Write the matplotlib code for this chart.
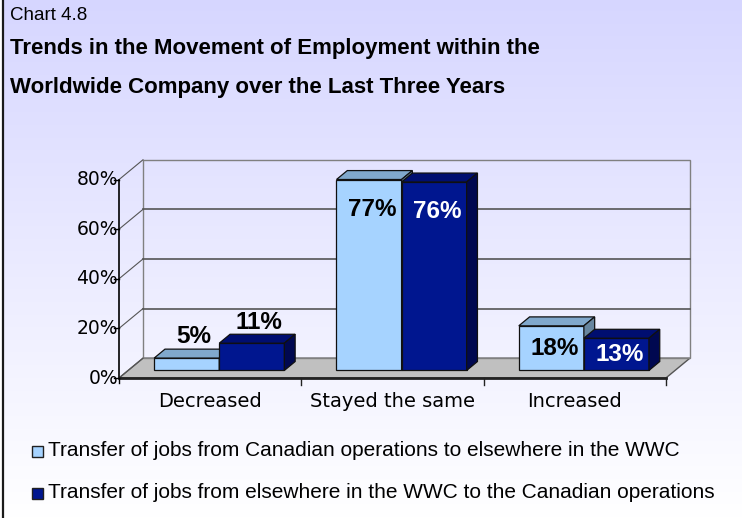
import matplotlib

matplotlib.use("Agg")
import matplotlib.pyplot as plt
import numpy as np
from matplotlib.patches import Polygon

CHART_LABEL = "Chart 4.8"
TITLE = "Trends in the Movement of Employment within the\nWorldwide Company over the Last Three Years"
CATEGORIES = ["Decreased", "Stayed the same", "Increased"]
SERIES_NAMES = [
    "Transfer of jobs from Canadian operations to elsewhere in the WWC",
    "Transfer of jobs from elsewhere in the WWC to the Canadian operations",
]
FROM_CANADA = [5, 77, 18]
TO_CANADA = [11, 76, 13]
Y_TICKS = [0, 20, 40, 60, 80]

# pixel layout of the figure (742 x 518 at dpi 100)
W_PX, H_PX = 742, 518
X0_PX, Y0_PX = 119, 378          # front-left corner of the floor
PX_PER_CAT, PX_PER_PCT = 182.3, 2.48
DX, DY = 24 / PX_PER_CAT, 8.0     # depth offset of the back wall (data units)
ZF, ZB = 0.38, 0.83               # bar depth span (0 = front, 1 = back)
BAR_W = 0.357

FRONT = ["#A6D3FF", "#00168F"]
TOP = ["#80A8CC", "#000E70"]
SIDE = ["#67869F", "#000850"]
TEXT_COL = ["black", "white"]

SANS = "Liberation Sans"
AXIS_FONT = "DejaVu Sans"


def proj(x, y, z):
    return (x + z * DX, y + z * DY)


def fx(px):
    return px / W_PX


def fy(py):
    return 1 - py / H_PX


def draw_bar(ax, x0, x1, h, s):
    front = [proj(x0, 0, ZF), proj(x1, 0, ZF), proj(x1, h, ZF), proj(x0, h, ZF)]
    top = [proj(x0, h, ZF), proj(x1, h, ZF), proj(x1, h, ZB), proj(x0, h, ZB)]
    side = [proj(x1, 0, ZF), proj(x1, 0, ZB), proj(x1, h, ZB), proj(x1, h, ZF)]
    for pts, col in ((front, FRONT[s]), (top, TOP[s]), (side, SIDE[s])):
        ax.add_patch(Polygon(pts, closed=True, facecolor=col, edgecolor="#101010",
                             linewidth=0.9, zorder=3))


fig = plt.figure(figsize=(W_PX / 100, H_PX / 100), dpi=100)

# background gradient
bg = fig.add_axes([0, 0, 1, 1], zorder=-2)
grad = np.linspace(0, 1, 256)[:, None]
top_c = np.array([0.84, 0.84, 1.0])
bot_c = np.array([1.0, 1.0, 1.0])
img = top_c[None, None, :] * (1 - grad[:, :, None]) + bot_c[None, None, :] * grad[:, :, None]
bg.imshow(img, aspect="auto", extent=[0, 1, 0, 1], origin="upper")
bg.axvspan(0, fx(2), color="white")
bg.axvline(fx(2.5), color="#1a1a1a", linewidth=1.6)
bg.set_xlim(0, 1)
bg.set_ylim(0, 1)
bg.axis("off")

# main axes mapped onto pixels: x in category units, y in percent
ax = fig.add_axes([0, 0, 1, 1])
ax.set_xlim(-0.5 - X0_PX / PX_PER_CAT, -0.5 + (W_PX - X0_PX) / PX_PER_CAT)
ax.set_ylim((Y0_PX - H_PX) / PX_PER_PCT, Y0_PX / PX_PER_PCT)
ax.axis("off")
ax.patch.set_alpha(0)

n = len(CATEGORIES)
xl, xr = -0.5, n - 0.5
ymax = Y_TICKS[-1]

# floor
floor = [proj(xl, 0, 0), proj(xr, 0, 0), proj(xr, 0, 1), proj(xl, 0, 1)]
ax.add_patch(Polygon(floor, closed=True, facecolor="#C0C0C0", edgecolor="#555555",
                     linewidth=1.0, zorder=1))

# back wall and gridlines
wall = [proj(xl, 0, 1), proj(xr, 0, 1), proj(xr, ymax, 1), proj(xl, ymax, 1)]
ax.add_patch(Polygon(wall, closed=True, facecolor="none", edgecolor="#808080",
                     linewidth=1.0, zorder=1))
for v in Y_TICKS[1:-1]:
    (a, b), (c, d) = proj(xl, v, 1), proj(xr, v, 1)
    ax.plot([a, c], [b, d], color="#555555", linewidth=1.2, zorder=1)
for v in Y_TICKS:
    (a, b), (c, d) = proj(xl, v, 0), proj(xl, v, 1)
    ax.plot([a, c], [b, d], color="#555555", linewidth=0.8, zorder=1)

# axes lines
ax.plot([xl, xl], [0, ymax], color="black", linewidth=1.2, zorder=4)
ax.plot([xl, xr], [0, 0], color="#222222", linewidth=2.0, zorder=4)
for v in Y_TICKS:
    ax.plot([xl - 5 / PX_PER_CAT, xl], [v, v], color="black", linewidth=1.0, zorder=4)
    ax.text(xl - 1 / PX_PER_CAT, v, f"{v}%", ha="right", va="center",
            fontsize=13.5, family=AXIS_FONT, color="black")
ax.plot([xl, xl], [0, -5 / PX_PER_PCT], color="black", linewidth=1.0, zorder=4)
for i in range(n):
    xt = xl + i + 1
    ax.plot([xt, xt], [0, -7 / PX_PER_PCT], color="#222222", linewidth=1.0, zorder=4)
    ax.text(i, -9.3, CATEGORIES[i], ha="center", va="center", fontsize=14,
            family=AXIS_FONT, color="black")

# bars
series = [FROM_CANADA, TO_CANADA]
for i in range(n):
    for s, vals in enumerate(series):
        h = vals[i]
        x0 = i - BAR_W + s * BAR_W
        x1 = x0 + BAR_W
        draw_bar(ax, x0, x1, h, s)
        cx = (x0 + x1) / 2 + ZF * DX
        bar_px = h * PX_PER_PCT
        if bar_px < 30:
            # short bars: label sits above the top face
            lx = cx + (ZB - ZF) / 2 * DX + 2 / PX_PER_CAT
            ly = h + ZF * DY + 8.5
            col = "black"
        else:
            lx = cx + 3 / PX_PER_CAT
            ly = h + ZF * DY - min(30, bar_px / 2) / PX_PER_PCT
            col = TEXT_COL[s]
        ax.text(lx, ly, f"{h}%", ha="center", va="center", fontsize=17.5,
                fontweight="bold", family=SANS, color=col, zorder=5)

# titles
fig.text(fx(10), fy(15), CHART_LABEL, ha="left", va="center", fontsize=13.5, family=SANS)
fig.text(fx(10), fy(68), TITLE, ha="left", va="center", fontsize=16, fontweight="bold",
         family=SANS, linespacing=2.15)

# legend
for k, (name, py) in enumerate(zip(SERIES_NAMES, [451, 493])):
    fig.patches.append(Polygon([(fx(32), fy(py - 5)), (fx(43), fy(py - 5)),
                                (fx(43), fy(py + 6)), (fx(32), fy(py + 6))],
                               closed=True, transform=fig.transFigure,
                               facecolor=FRONT[k], edgecolor="#202020", linewidth=1.0))
    fig.text(fx(48), fy(py), name, ha="left", va="center", fontsize=15, family=SANS)

fig.savefig("out.png", dpi=100)
